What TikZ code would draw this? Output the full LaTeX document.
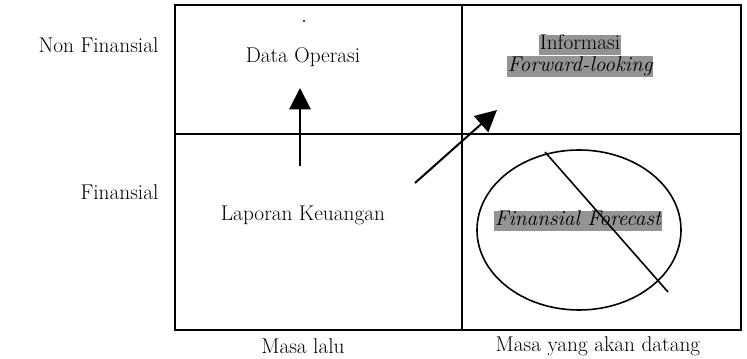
\documentclass[tikz,border=0pt]{standalone}
\usetikzlibrary{arrows.meta,shapes.geometric}
\begin{document}
\begin{tikzpicture}[x=0.75pt,y=-0.75pt,
  font=\fontsize{16}{19}\selectfont,
  frame/.style={line width=1.5pt},
  arr/.style={line width=1.5pt,-{Triangle[length=16pt,width=16pt]}},
  lbl/.style={inner sep=1pt},
  hl/.style={fill=black!42,inner sep=0.5pt,text height=10.8pt,text depth=3.4pt,
    font=\fontsize{16}{16}\selectfont}]
\useasboundingbox (0,0) rectangle (747,359);

% quadrant frame
\draw[frame] (175,5) rectangle (741,330);
\draw[frame] (462,5) -- (462,330);
\draw[frame] (175,134) -- (741,134);

% axis labels
\node[lbl,anchor=east] (nonfin) at (160,45) {Non Finansial};
\node[lbl,anchor=east] (fin) at (160,192) {Finansial};
\node[lbl] (past) at (303,346) {Masa lalu};
\node[lbl] (future) at (598,346) {Masa yang akan datang};

% quadrant contents
\node[lbl] (ops) at (303,57) {Data Operasi};
\node[lbl] (lk) at (303,215) {Laporan Keuangan};
\node[hl] (info1) at (580,45) {Informasi};
\node[hl,font=\fontsize{16}{16}\selectfont\itshape] (info2) at (580,66.5) {Forward-looking};

\fill (304,21) circle (0.8pt);

% arrows
\coordinate (up0) at (300,166);
\coordinate (up1) at (300,88);
\draw[arr] (up0) -- (up1);
\coordinate (dg0) at (415,183);
\coordinate (dg1) at (497,110);
\draw[arr] (dg0) -- (dg1);

% crossed-out forecast
\node[draw,line width=1.2pt,ellipse,minimum width=153pt,minimum height=120pt,inner sep=0pt] (ell) at (579,230) {};
\node[hl,font=\fontsize{16}{16}\selectfont\itshape] (fc) at (578,221) {Finansial Forecast};
\coordinate (x0) at (545,152);
\coordinate (x1) at (668,292);
\draw[line width=1.2pt] (x0) -- (x1);
\end{tikzpicture}
\end{document}
